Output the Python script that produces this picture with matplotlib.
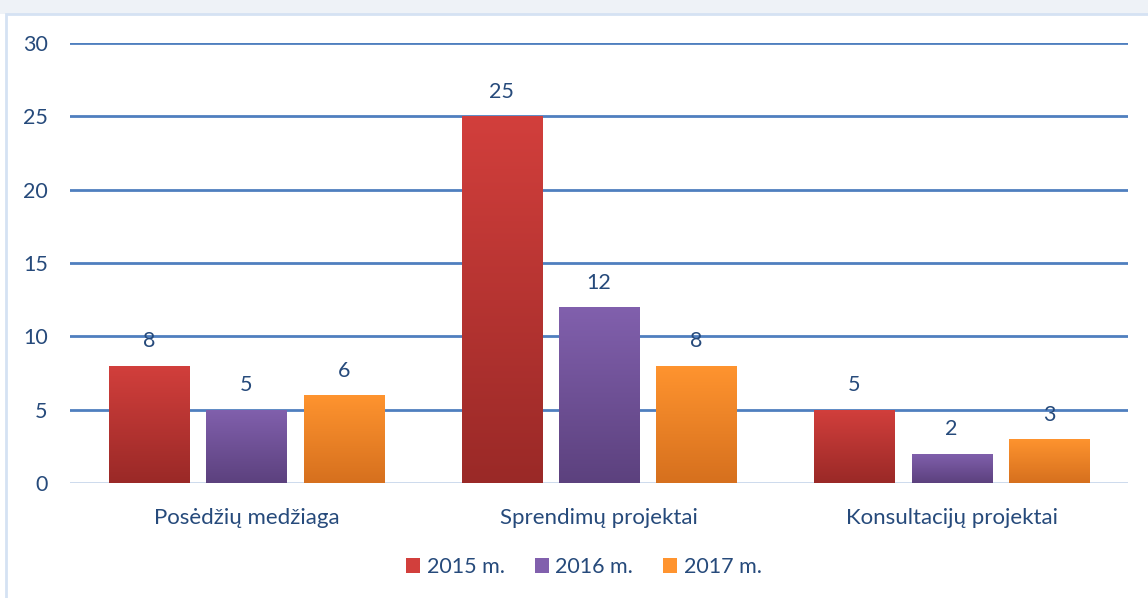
import numpy as np
import matplotlib.pyplot as plt
from matplotlib.patches import Rectangle
from matplotlib.colors import LinearSegmentedColormap

categories = ['Posėdžių medžiaga', 'Sprendimų projektai', 'Konsultacijų projektai']
years = ['2015 m.', '2016 m.', '2017 m.']
v2015 = [8, 25, 5]
v2016 = [5, 12, 2]
v2017 = [6, 8, 3]
series = [v2015, v2016, v2017]

top_cols = ['#D23F3C', '#8160AD', '#FF942F']
bot_cols = ['#9A2927', '#5C417E', '#D6701E']
txt = '#264A7B'

plt.rcParams['font.family'] = ['Lato', 'DejaVu Sans']

fig = plt.figure(figsize=(11.48, 5.98), dpi=100)
fig.patch.set_facecolor('white')
# top band and border
fig.patches.append(Rectangle((0, 1 - 14/598), 1, 14/598, transform=fig.transFigure,
                             facecolor='#EEF2F7', edgecolor='none', zorder=-5))
fig.patches.append(Rectangle((6/1148, -0.01), 1.1, 1 - 14/598 + 0.01, transform=fig.transFigure,
                             facecolor='white', edgecolor='#D5E2F3', lw=2, zorder=-5))

ax = fig.add_axes([70/1148, 1 - 483/598, 1058/1148, 440/598])
ax.set_zorder(2)
ax.set_facecolor('none')
x = np.arange(len(categories))
w = 0.227
step = 0.276

for yv in range(5, 31, 5):
    ax.axhline(yv, color='#4F7FBF', lw=2, zorder=1)
ax.axhline(0, color='#C9D7EB', lw=2, zorder=1)

grad = np.linspace(0, 1, 256).reshape(-1, 1)
for i, vals in enumerate(series):
    cmap = LinearSegmentedColormap.from_list('g', [bot_cols[i], top_cols[i]])
    xs = x + (i - 1) * step
    bars = ax.bar(xs, vals, w, color=top_cols[i], zorder=2, label=years[i])
    for b, v in zip(bars, vals):
        b.set_facecolor('none')
        im = ax.imshow(grad, cmap=cmap, origin='lower', aspect='auto',
                       extent=(b.get_x(), b.get_x() + w, 0, v), zorder=2)
        im.set_clip_path(b)
        ax.text(b.get_x() + w/2, v + 1.65, str(v), ha='center', va='center',
                fontsize=15.5, color=txt, zorder=3)

ax.set_xlim(-0.5, 2.5)
ax.set_ylim(0, 30)
ax.set_yticks(range(0, 31, 5))
for s in ax.spines.values():
    s.set_visible(False)
ax.tick_params(axis='both', length=0, labelsize=15.5, labelcolor=txt)
ax.tick_params(axis='y', pad=16)
ax.set_xticks(x)
ax.set_xticklabels(categories, fontsize=16)
ax.tick_params(axis='x', pad=18)

handles = [Rectangle((0, 0), 1, 1, facecolor=c) for c in top_cols]
fig.legend(handles, years, loc='center', bbox_to_anchor=(584/1148, 1 - 567/598),
           ncol=3, frameon=False, fontsize=15.5, labelcolor=txt,
           handlelength=0.65, handleheight=0.65, handletextpad=0.3, columnspacing=1.4)

fig.savefig('out.png', dpi=100)
